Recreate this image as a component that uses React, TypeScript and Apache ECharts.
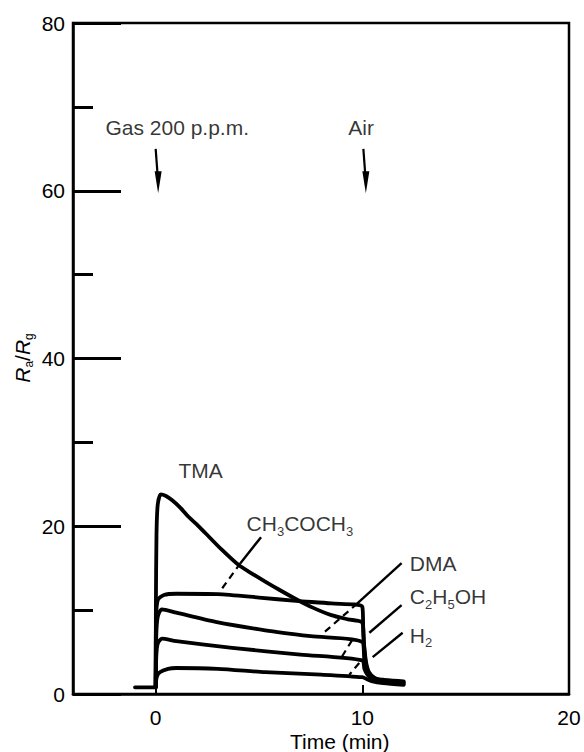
import React, { useEffect, useRef } from "react";
import * as echarts from "echarts";

const FONT = "'Liberation Sans', Arial, Helvetica, sans-serif";

const xTickValues = [0, 10, 20];
const yMin = 0;
const yMax = 80;
const yInterval = 20;
const xMin = -4;
const xMax = 20;

// Response curves [time (min), Ra/Rg]
const tma: number[][] = [
  [-1, 0.8], [0, 0.8], [0.01, 10], [0.04, 19], [0.1, 22.6], [0.25, 23.8], [0.5, 23.6],
  [0.8, 23.1], [1.2, 22.2], [1.6, 21.1], [2.0, 20.2], [2.4, 19.2], [3.2, 17.2],
  [4, 15.4], [4.7, 14.3], [5.3, 13.4], [6.0, 12.4], [6.8, 11.3], [7.6, 10.3],
  [8.5, 9.4], [9.3, 8.9], [10, 8.5], [10.08, 6], [10.18, 3.8],
  [10.32, 2.6], [10.6, 1.9], [11, 1.7], [11.5, 1.6], [12, 1.5],
];
const acetone: number[][] = [
  [0, 0.8], [0.02, 9], [0.1, 11.2], [0.4, 11.8], [1, 11.95], [3, 11.9], [5, 11.5],
  [6.8, 11.1], [8.5, 10.8], [10, 10.4], [10.05, 7], [10.15, 4], [10.3, 2.6],
  [10.6, 1.9], [11, 1.6], [11.5, 1.5], [12, 1.4],
];
const dma: number[][] = [
  [0, 0.8], [0.03, 7], [0.1, 9.2], [0.3, 10.1], [1, 9.7], [2.9, 8.6], [5.3, 7.6],
  [7.5, 6.9], [10, 6.2], [10.1, 4], [10.25, 2.6], [10.5, 1.9], [11, 1.6], [12, 1.3],
];
const ethanol: number[][] = [
  [0, 0.8], [0.03, 4.5], [0.1, 6], [0.3, 6.6], [1, 6.3], [3.7, 5.5], [7, 4.7],
  [10, 4.0], [10.1, 3], [10.25, 2.3], [10.5, 1.8], [11, 1.5], [12, 1.2],
];
const h2: number[][] = [
  [0, 0.8], [0.05, 2], [0.2, 2.6], [0.6, 3.0], [1, 3.1], [3, 3.0], [5.3, 2.6],
  [8, 2.3], [10, 2.0], [10.2, 1.8], [10.5, 1.5], [11, 1.3], [12, 1.1],
];
const curves = [tma, acetone, dma, ethanol, h2];

// Leader lines (data coordinates)
const leadersSolid: number[][][] = [
  [[5.1, 18.7], [4.1, 15.6]],
  [[11.9, 15.6], [9.76, 10.8]],
  [[11.9, 10.6], [10.34, 7.3]],
  [[11.95, 7.3], [10.5, 4.4]],
];
const leadersDashed: number[][][] = [
  [[4.1, 15.6], [3.1, 12.2]],
  [[9.76, 10.8], [8.06, 7.15]],
  [[9.5, 6.4], [9.0, 4.4]],
  [[9.85, 3.7], [9.37, 2.3]],
];

// Text annotations
const labelTexts = [
  "{m|TMA}",
  "{m|CH}{s|3}{m|COCH}{s|3}",
  "{m|DMA}",
  "{m|C}{s|2}{m|H}{s|5}{m|OH}",
  "{m|H}{s|2}",
  "{m|Gas 200 p.p.m.}",
  "{m|Air}",
];
const labelPositions = [
  [1.1, 26.7], [4.4, 20.3], [12.3, 15.6], [12.3, 11.6], [12.3, 7.0], [-2.43, 67.5], [9.32, 67.5],
];

// Arrows (start, head centre)
const arrowGas = [[0.0, 65.0], [0.12, 61.0]];
const arrowAir = [[10.05, 65.0], [10.17, 61.0]];

const rich = {
  m: { fontSize: 21, lineHeight: 28, fontFamily: FONT, color: "#000" },
  s: { fontSize: 13, lineHeight: 14, fontFamily: FONT, color: "#000", verticalAlign: "bottom" },
};

export default function App() {
  const ref = useRef<HTMLDivElement>(null);
  useEffect(() => {
    if (!ref.current) return;
    const chart = echarts.init(ref.current, null, { renderer: "svg" });
    const series: any[] = [];
    curves.forEach((c) => {
      series.push({
        type: "line",
        data: c,
        showSymbol: false,
        symbol: "none",
        smooth: 0.25,
        lineStyle: { color: "#000", width: 3.8, join: "round", cap: "round" },
        z: 3,
      });
    });
    leadersSolid.forEach((seg) => {
      series.push({
        type: "line",
        data: seg,
        symbol: "none",
        lineStyle: { color: "#000", width: 2.4 },
        z: 2,
      });
    });
    leadersDashed.forEach((seg) => {
      series.push({
        type: "line",
        data: seg,
        symbol: "none",
        lineStyle: { color: "#000", width: 2.2, type: [7, 5] },
        z: 2,
      });
    });
    [arrowGas, arrowAir].forEach((a) => {
      series.push({
        type: "line",
        showSymbol: true,
        data: [
          { value: a[0], symbol: "none" },
          { value: a[1], symbol: "triangle", symbolSize: [7, 22], symbolRotate: 180 },
        ],
        itemStyle: { color: "#000" },
        lineStyle: { color: "#000", width: 2.2 },
        z: 4,
      });
    });
    series.push({
      type: "scatter",
      symbolSize: 0,
      data: labelPositions.map((p) => ({ value: p })),
      label: {
        show: true,
        position: "right",
        distance: 0,
        color: "#000",
        formatter: (p: any) => labelTexts[p.dataIndex],
        rich,
      },
      z: 5,
    });

    chart.setOption({
      animation: false,
      backgroundColor: "#fff",
      grid: {
        left: 73,
        right: 15,
        top: 23,
        bottom: 58,
        show: true,
        borderColor: "#000",
        borderWidth: 2.5,
        containLabel: false,
        outerBoundsMode: "none",
      },
      xAxis: {
        type: "value",
        min: xMin,
        max: xMax,
        splitLine: { show: false },
        axisLine: { show: true, onZero: false, lineStyle: { color: "#000", width: 2.5 } },
        axisTick: {
          show: true,
          inside: true,
          length: 9,
          customValues: xTickValues,
          lineStyle: { color: "#000", width: 2 },
        },
        axisLabel: {
          customValues: xTickValues,
          margin: 13,
          fontSize: 21,
          fontFamily: FONT,
          color: "#000",
        },
      },
      yAxis: {
        type: "value",
        min: yMin,
        max: yMax,
        interval: yInterval,
        splitLine: { show: false },
        axisLine: { show: true, onZero: false, lineStyle: { color: "#000", width: 2.5 } },
        axisTick: { show: true, inside: true, length: 48, lineStyle: { color: "#000", width: 3 } },
        minorTick: { show: true, splitNumber: 2, length: 20, lineStyle: { color: "#000", width: 3 } },
        axisLabel: { margin: 8, fontSize: 21, fontFamily: FONT, color: "#000" },
      },
      graphic: [
        {
          type: "text",
          left: 290,
          top: 731,
          style: { text: "Time (min)", font: `21px ${FONT}`, fill: "#000" },
        },
        {
          type: "text",
          x: 22,
          y: 358,
          rotation: Math.PI / 2,
          style: {
            text: "{r|R}{s|a}{m|/}{r|R}{s|g}",
            align: "center",
            verticalAlign: "middle",
            rich: {
              r: { fontSize: 21, lineHeight: 26, fontStyle: "italic", fontFamily: FONT, fill: "#000" },
              m: { fontSize: 21, lineHeight: 26, fontFamily: FONT, fill: "#000" },
              s: { fontSize: 12, lineHeight: 12, fontFamily: FONT, fill: "#000", verticalAlign: "bottom" },
            },
          },
        },
      ],
      series,
    });
    return () => chart.dispose();
  }, []);
  return (
    <div
      ref={ref}
      style={{ position: "fixed", left: 0, top: 0, width: 584, height: 752, background: "#fff" }}
    />
  );
}
